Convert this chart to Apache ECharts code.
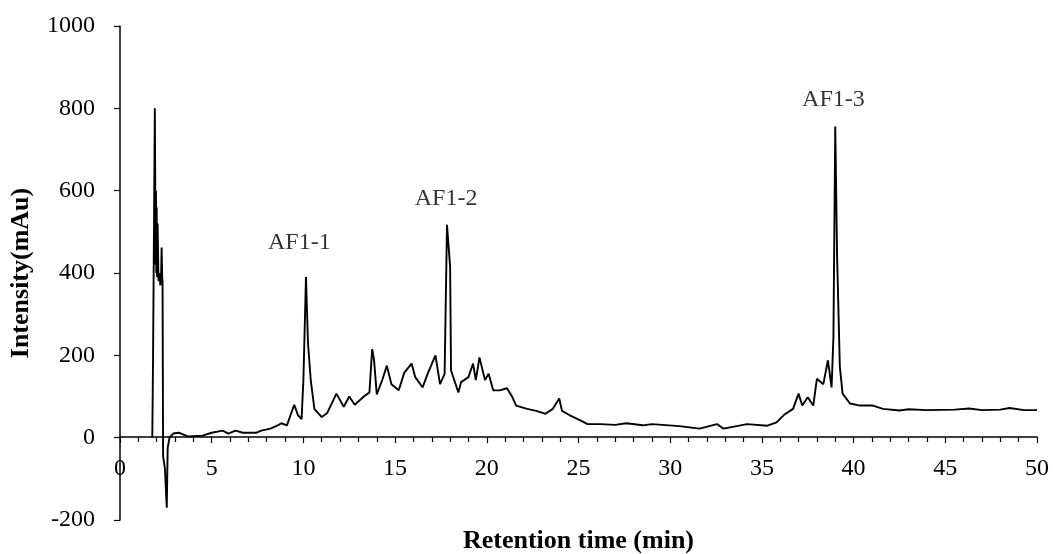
<!DOCTYPE html>
<html>
<head>
<meta charset="utf-8">
<script src="https://cdn.jsdelivr.net/npm/echarts@6/dist/echarts.min.js"></script>
<style>html,body{margin:0;padding:0;background:#fff}#c{width:1053px;height:554px}</style>
</head>
<body>
<div id="c"></div>
<script>
// Retention time (min)
const times = [
  1.76, 1.80, 1.90, 1.92, 1.94, 1.96, 1.98, 2.00, 2.02, 2.05, 2.10, 2.15, 2.20, 2.24, 2.27, 2.30, 2.32, 2.35, 2.45, 2.55, 2.60,
  2.70, 2.90, 3.20, 3.70, 4.50, 5.00,
  5.60, 5.90, 6.30, 6.70, 7.45, 7.70, 8.20, 8.60, 8.80, 9.10, 9.50, 9.70, 9.90, 10.00, 10.14, 10.25, 10.40, 10.60, 11.00,
  11.30, 11.80, 12.20, 12.50, 12.80, 13.30, 13.60, 13.75, 13.85, 14.00, 14.30, 14.55, 14.80, 15.20, 15.50, 15.90, 16.10,
  16.50, 16.80, 17.20, 17.45, 17.70, 17.83, 18.00, 18.05, 18.45, 18.60, 19.00, 19.25, 19.40, 19.60, 19.90, 20.10, 20.35,
  20.70, 21.10, 21.40, 21.60, 22.20, 22.70, 23.20, 23.60, 23.95, 24.10, 24.50, 25.10, 25.50, 26.20, 27.00, 27.60, 28.50,
  29.00, 30.50, 31.60, 32.55, 32.90, 34.20, 35.30, 35.80, 36.25, 36.70, 37.00, 37.20, 37.50, 37.80, 38.00, 38.35, 38.60,
  38.80, 38.90, 39.00, 39.10, 39.25, 39.40, 39.80, 40.35, 41.05, 41.60, 42.50, 43.00, 44.00, 45.50, 46.30, 47.00, 48.00,
  48.50, 49.30, 50.00
];
// Intensity (mAu)
const intensity = [
  0, 180, 800, 630, 420, 600, 400, 560, 390, 520, 380, 400, 370, 390, 462, 390, 380, -45, -75, -170, -25,
  0, 10, 12, 3, 5, 12,
  17, 10, 17, 12, 12, 17, 22, 30, 35, 30, 80, 55, 45, 140, 390, 230, 140, 70, 50,
  60, 107, 75, 100, 80, 100, 110, 215, 190, 105, 140, 175, 130, 115, 158, 180, 147,
  122, 158, 200, 130, 155, 517, 415, 163, 110, 135, 147, 180, 140, 195, 140, 155, 115,
  115, 120, 98, 78, 70, 65, 58, 70, 95, 65, 55, 42, 33, 33, 31, 35, 30,
  33, 28, 22, 33, 22, 33, 29, 37, 57, 70, 107, 78, 98, 78, 143, 130, 188,
  122, 245, 756, 440, 172, 107, 83, 78, 78, 70, 66, 69, 67, 68, 71, 67, 68,
  72, 67, 67
];
// Peak annotations
const peakNames = ['AF1-1', 'AF1-2', 'AF1-3'];
const peakLabelX = [9.78, 17.78, 38.9];
const peakLabelY = [473, 580, 820];

const xTicks = [0, 5, 10, 15, 20, 25, 30, 35, 40, 45, 50];
const yTicks = [-200, 0, 200, 400, 600, 800, 1000];

const FONT = '"Liberation Serif", "Times New Roman", serif';
const chart = echarts.init(document.getElementById('c'), null, {renderer: 'canvas'});
chart.setOption({
  animation: false,
  backgroundColor: '#fff',
  grid: {left: 120, right: 16, top: 26, bottom: 34, containLabel: false, outerBoundsMode: 'none'},
  xAxis: {
    type: 'value', min: xTicks[0], max: xTicks[xTicks.length - 1], interval: 5,
    position: 'bottom', offset: -83,
    name: 'Retention time (min)', nameLocation: 'middle', nameGap: 91, nameMoveOverlap: false,
    nameTextStyle: {fontFamily: FONT, fontWeight: 'bold', fontSize: 26, color: '#000'},
    axisLine: {onZero: false, lineStyle: {color: '#000', width: 1.5}},
    axisTick: {show: true, length: 6, lineStyle: {color: '#000', width: 1.2}},
    minorTick: {show: true, splitNumber: 5, length: 5, lineStyle: {color: '#000', width: 1.2}},
    axisLabel: {fontFamily: FONT, fontSize: 24, color: '#000', margin: 20, formatter: v => String(v)},
    splitLine: {show: false}
  },
  yAxis: {
    type: 'value', min: yTicks[0], max: yTicks[yTicks.length - 1], interval: 200,
    name: 'Intensity(mAu)', nameLocation: 'middle', nameGap: 86, nameMoveOverlap: false,
    nameTextStyle: {fontFamily: FONT, fontWeight: 'bold', fontSize: 26, color: '#000'},
    axisLine: {show: true, onZero: false, lineStyle: {color: '#000', width: 1.5}},
    axisTick: {show: true, length: 6, lineStyle: {color: '#000', width: 1.2}},
    axisLabel: {fontFamily: FONT, fontSize: 24, color: '#000', margin: 25, formatter: v => String(v)},
    splitLine: {show: false}
  },
  series: [
    {
      type: 'line',
      data: times.map((t, i) => [t, intensity[i]]),
      showSymbol: false,
      symbol: 'none',
      lineStyle: {color: '#000', width: 1.9},
      z: 3
    },
    {
      type: 'scatter',
      symbolSize: 0,
      data: peakNames.map((n, i) => ({value: [peakLabelX[i], peakLabelY[i]], name: n})),
      label: {show: true, position: 'inside', formatter: p => p.name,
              fontFamily: FONT, fontSize: 24, color: '#000'},
      silent: true
    }
  ]
});
</script>
</body>
</html>
